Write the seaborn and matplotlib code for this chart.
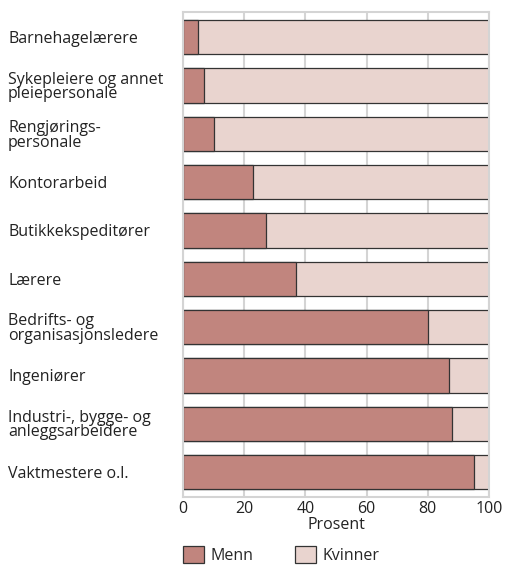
import matplotlib
matplotlib.use("Agg")
import matplotlib.pyplot as plt
import seaborn as sns
import pandas as pd
from matplotlib.patches import Patch

# data
yrker = ["Barnehagelærere", "Sykepleiere og annet\npleiepersonale", "Rengjørings-\npersonale",
         "Kontorarbeid", "Butikkekspeditører", "Lærere", "Bedrifts- og\norganisasjonsledere",
         "Ingeniører", "Industri-, bygge- og\nanleggsarbeidere", "Vaktmestere o.l."]
menn = [5, 7, 10, 23, 27, 37, 80, 87, 88, 95]
kvinner = [95, 93, 90, 77, 73, 63, 20, 13, 12, 5]

df = pd.DataFrame({"yrke": yrker, "menn": menn, "kvinner": kvinner})
df["total"] = df["menn"] + df["kvinner"]

sns.set_style("white")
plt.rcParams["font.family"] = ["Open Sans", "DejaVu Sans"]
plt.rcParams["font.size"] = 11.5

c_menn = "#c1857e"
c_kv = "#e9d4cf"

fig = plt.figure(figsize=(5.06, 5.78), dpi=100)
ax = fig.add_axes([0.3617, 0.140, 0.6047, 0.839])

sns.barplot(data=df, x="total", y="yrke", color=c_kv, edgecolor="#333333", saturation=1,
            linewidth=0.9, width=0.71, ax=ax, orient="h")
sns.barplot(data=df, x="menn", y="yrke", color=c_menn, edgecolor="#333333", saturation=1,
            linewidth=0.9, width=0.71, ax=ax, orient="h")

ax.set_xlim(0, 100)
ax.set_ylim(9.52, -0.52)
ax.set_xticks([0, 20, 40, 60, 80, 100])
ax.set_xlabel("Prosent", color="#222222", labelpad=0)
ax.set_ylabel("")
ax.grid(axis="x", color="#d4d4d4", linewidth=1.5)
ax.set_axisbelow(True)
for s in ax.spines.values():
    s.set_color("#d4d4d4")
    s.set_linewidth(1.5)
ax.tick_params(axis="y", length=0, pad=126)
ax.tick_params(axis="x", length=0, pad=3, colors="#222222")
for lab in ax.get_yticklabels():
    lab.set_horizontalalignment("left")
    lab.set_linespacing(0.9)
    lab.set_color("#222222")

handles = [Patch(facecolor=c_menn, edgecolor="#333333", linewidth=0.9, label="Menn"),
           Patch(facecolor=c_kv, edgecolor="#333333", linewidth=0.9, label="Kvinner")]
fig.legend(handles=handles, loc="lower left", bbox_to_anchor=(0.334, 0.0), ncol=2,
           frameon=False, handlelength=1.3, handleheight=1.3, handletextpad=0.4,
           columnspacing=2.6, fontsize=11.5)

fig.savefig("out.png", dpi=100)
